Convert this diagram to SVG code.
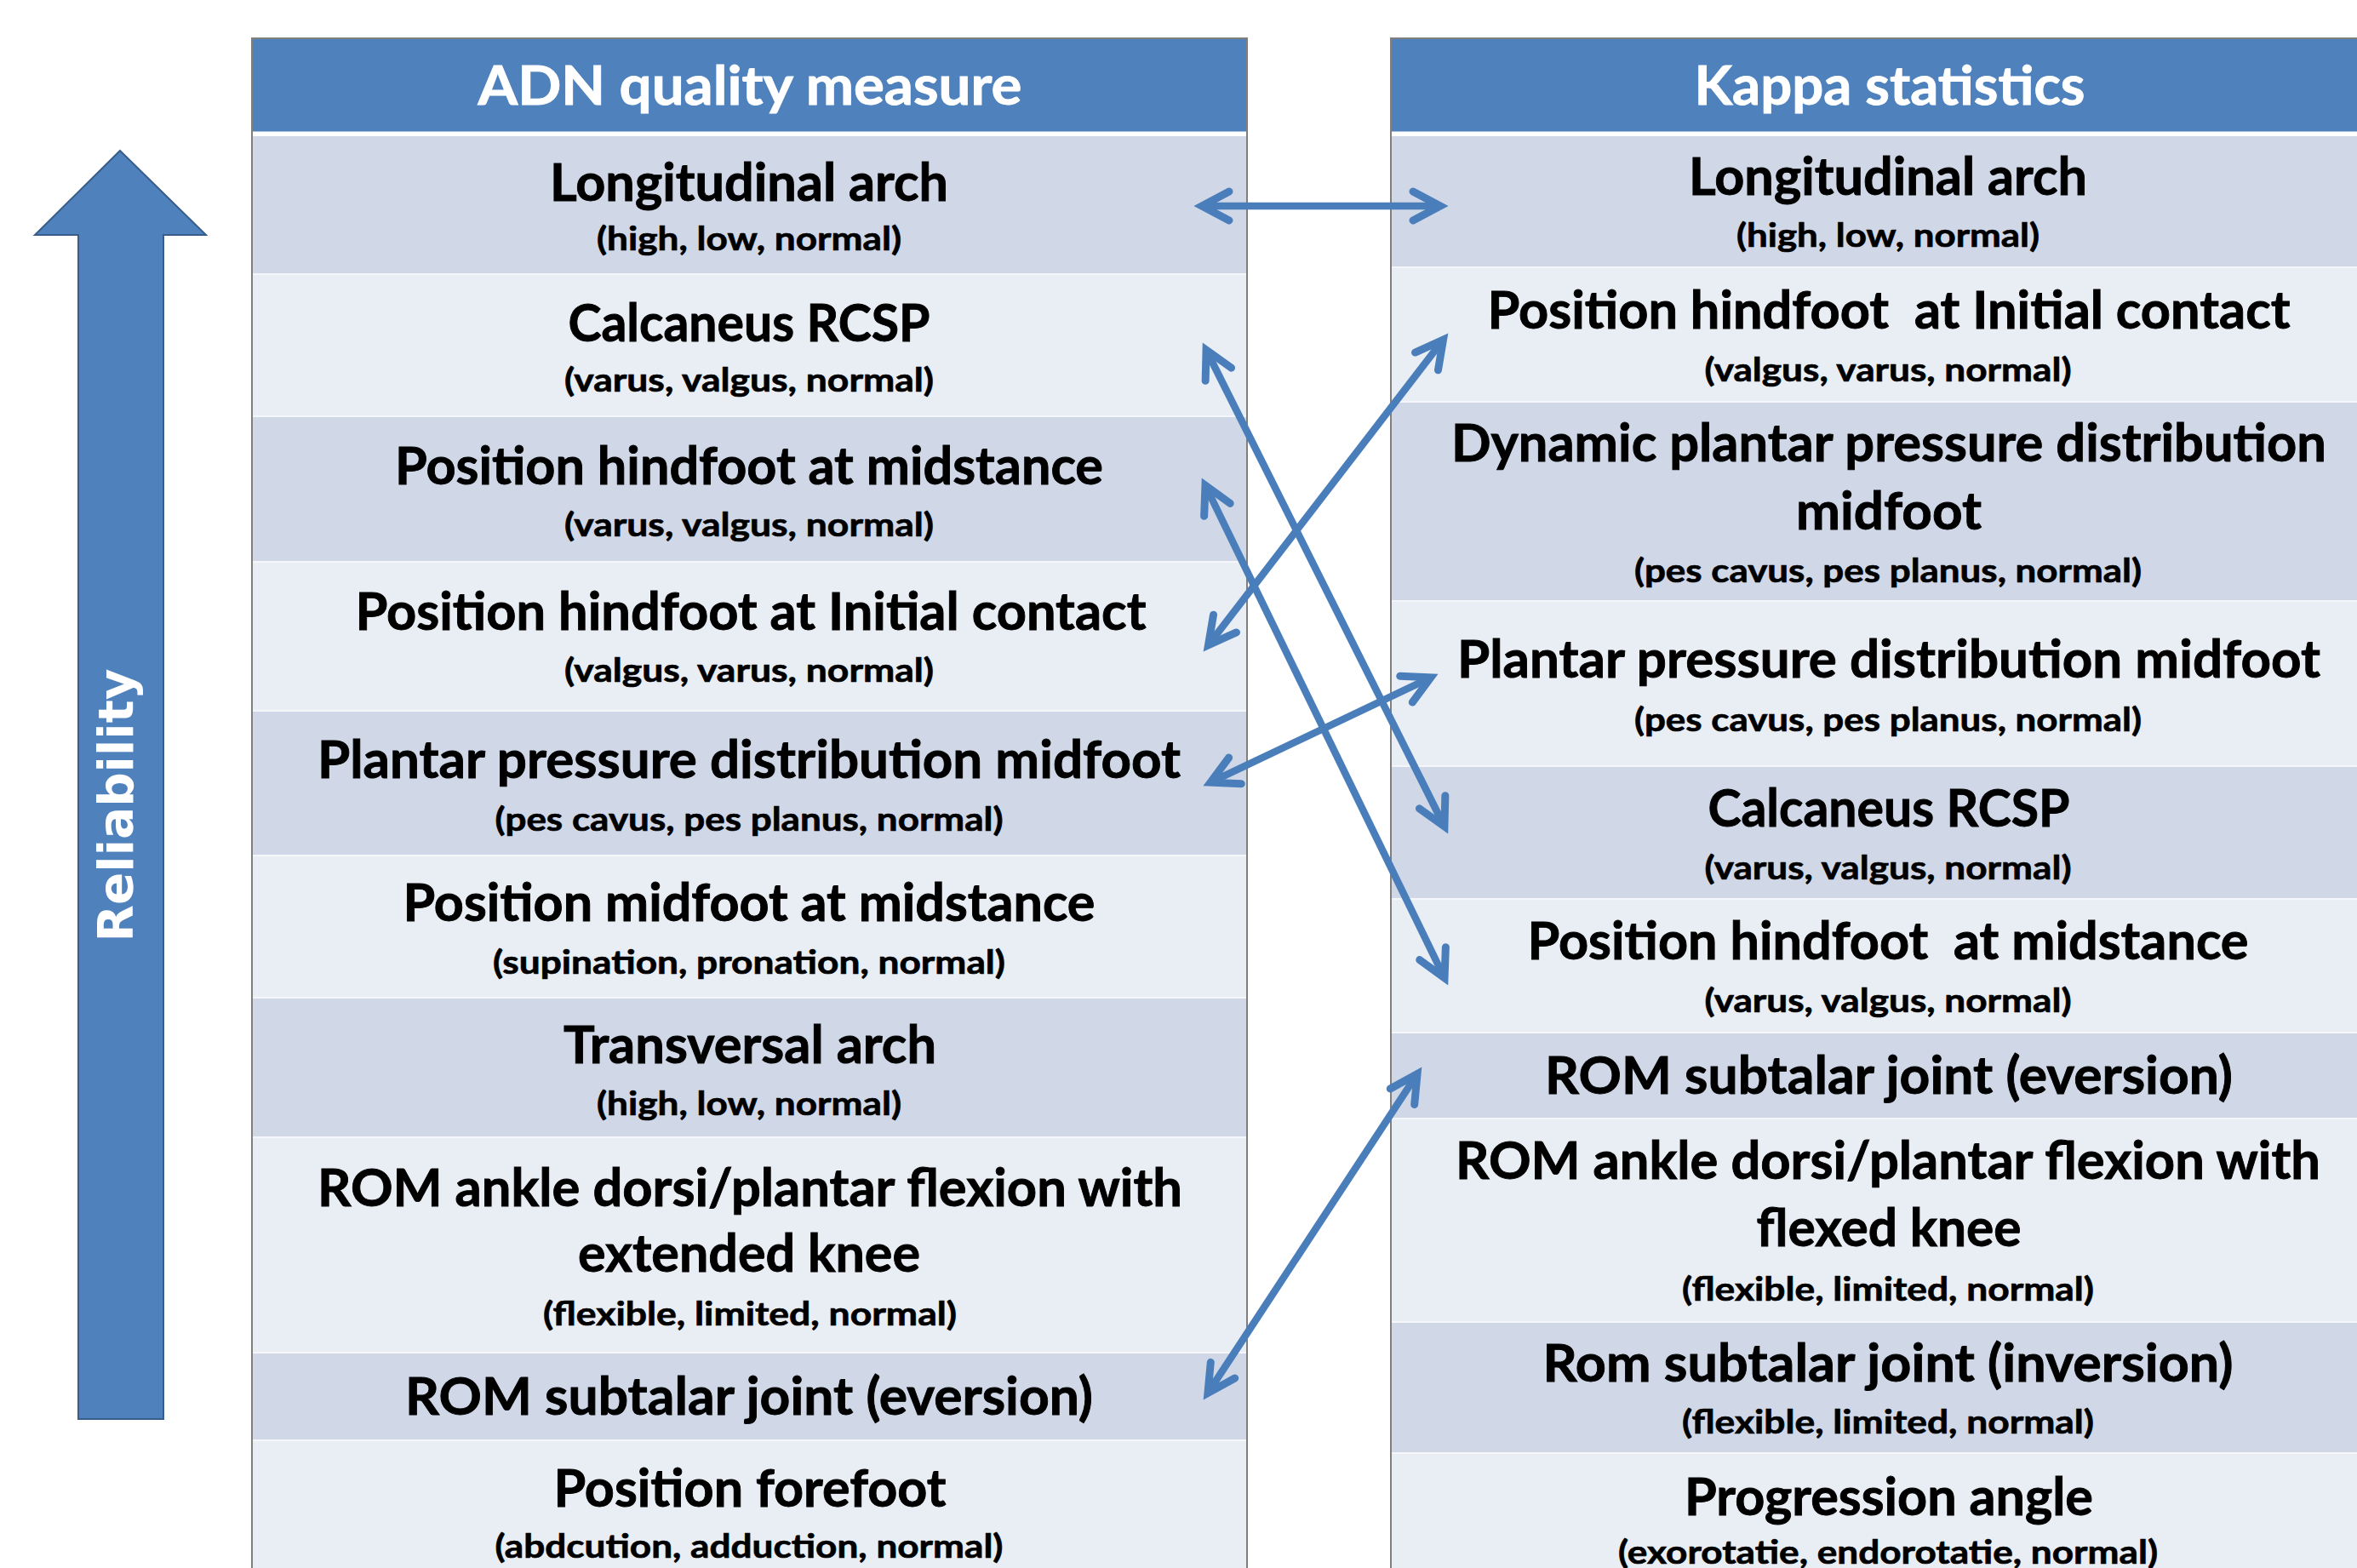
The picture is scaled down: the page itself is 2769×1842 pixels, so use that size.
<svg xmlns="http://www.w3.org/2000/svg" width="2769" height="1842" viewBox="0 0 2769 1842">
<defs>
<style>
.t{font-family:Lato,"Open Sans","Liberation Sans",sans-serif;font-weight:700;font-size:61px;text-anchor:middle;fill:#000;stroke:#000;stroke-width:0.9px}
.s{font-size:39px;stroke-width:0.7px}
.h{fill:#fff;stroke:#fff;font-size:64px}
.dk{fill:#D0D8E8}
.lt{fill:#E9EDF4}
.hd{fill:#4F81BD}
.sep{stroke:#F4F6FA;stroke-width:2}
.bd{stroke:#7F7F7F;stroke-width:2}
.con{fill:none;stroke:#4A7EBB;stroke-width:8.5}
</style>
<marker id="ah" markerUnits="userSpaceOnUse" viewBox="-50 -30 70 60" markerWidth="70" markerHeight="60" refX="0" refY="0" orient="auto-start-reverse">
<path d="M-31,-17 L1,0 L-31,17" fill="none" stroke="#4A7EBB" stroke-width="9" stroke-linecap="round" stroke-linejoin="miter" stroke-miterlimit="10"/>
</marker>
</defs>
<rect width="2769" height="1842" fill="#fff"/>

<g id="reliability-arrow">
<polygon points="141,177 242,276 192,276 192,1667 92,1667 92,276 41,276" fill="#4F81BD" stroke="#385D8A" stroke-width="2"/>
<text transform="translate(156,946) rotate(-90)" x="0" y="0" font-family="'DejaVu Sans',Verdana,sans-serif" font-weight="700" font-size="57" fill="#fff" text-anchor="middle" textLength="321" lengthAdjust="spacingAndGlyphs">Reliability</text>
</g>

<g id="left-table">
<g id="left-header"><rect class="hd" x="296" y="45" width="1169" height="110"/><text class="t h" x="881" y="123" textLength="639" lengthAdjust="spacingAndGlyphs">ADN quality measure</text></g>
<g id="L1"><rect class="dk" x="296" y="160" width="1169" height="162"/><text class="t" x="880" y="236" textLength="468" lengthAdjust="spacingAndGlyphs">Longitudinal arch</text><text class="t s" x="880" y="294" textLength="358" lengthAdjust="spacingAndGlyphs">(high, low, normal)</text></g>
<g id="L2"><rect class="lt" x="296" y="322" width="1169" height="167"/><text class="t" x="880" y="401" textLength="425" lengthAdjust="spacingAndGlyphs">Calcaneus RCSP</text><text class="t s" x="880" y="460" textLength="434" lengthAdjust="spacingAndGlyphs">(varus, valgus, normal)</text></g>
<g id="L3"><rect class="dk" x="296" y="489" width="1169" height="171"/><text class="t" x="880" y="569" textLength="832" lengthAdjust="spacingAndGlyphs">Position hindfoot at midstance</text><text class="t s" x="880" y="630" textLength="434" lengthAdjust="spacingAndGlyphs">(varus, valgus, normal)</text></g>
<g id="L4"><rect class="lt" x="296" y="660" width="1169" height="175"/><text class="t" x="882" y="740" textLength="929" lengthAdjust="spacingAndGlyphs">Position hindfoot at Initial contact</text><text class="t s" x="880" y="801" textLength="434" lengthAdjust="spacingAndGlyphs">(valgus, varus, normal)</text></g>
<g id="L5"><rect class="dk" x="296" y="835" width="1169" height="170"/><text class="t" x="880" y="914" textLength="1014" lengthAdjust="spacingAndGlyphs">Plantar pressure distribution midfoot</text><text class="t s" x="880" y="976" textLength="597" lengthAdjust="spacingAndGlyphs">(pes cavus, pes planus, normal)</text></g>
<g id="L6"><rect class="lt" x="296" y="1005" width="1169" height="167"/><text class="t" x="880" y="1082" textLength="813" lengthAdjust="spacingAndGlyphs">Position midfoot at midstance</text><text class="t s" x="880" y="1144" textLength="602" lengthAdjust="spacingAndGlyphs">(supination, pronation, normal)</text></g>
<g id="L7"><rect class="dk" x="296" y="1172" width="1169" height="164"/><text class="t" x="881" y="1249" textLength="438" lengthAdjust="spacingAndGlyphs">Transversal arch</text><text class="t s" x="880" y="1310" textLength="358" lengthAdjust="spacingAndGlyphs">(high, low, normal)</text></g>
<g id="L8"><rect class="lt" x="296" y="1336" width="1169" height="253"/><text class="t" x="881" y="1417" textLength="1016" lengthAdjust="spacingAndGlyphs">ROM ankle dorsi/plantar flexion with</text><text class="t" x="880" y="1494" textLength="402" lengthAdjust="spacingAndGlyphs">extended knee</text><text class="t s" x="881" y="1557" textLength="486" lengthAdjust="spacingAndGlyphs">(flexible, limited, normal)</text></g>
<g id="L9"><rect class="dk" x="296" y="1589" width="1169" height="103"/><text class="t" x="880" y="1662" textLength="808" lengthAdjust="spacingAndGlyphs">ROM subtalar joint (eversion)</text></g>
<g id="L10"><rect class="lt" x="296" y="1692" width="1169" height="150"/><text class="t" x="881" y="1770" textLength="461" lengthAdjust="spacingAndGlyphs">Position forefoot</text><text class="t s" x="880" y="1830" textLength="597" lengthAdjust="spacingAndGlyphs">(abdcution, adduction, normal)</text></g>
<g id="left-lines">
<line x1="296" y1="157" x2="1465" y2="157" stroke="#fff" stroke-width="5"/>
<line class="sep" x1="296" y1="322" x2="1465" y2="322"/><line class="sep" x1="296" y1="489" x2="1465" y2="489"/><line class="sep" x1="296" y1="660" x2="1465" y2="660"/><line class="sep" x1="296" y1="835" x2="1465" y2="835"/><line class="sep" x1="296" y1="1005" x2="1465" y2="1005"/><line class="sep" x1="296" y1="1172" x2="1465" y2="1172"/><line class="sep" x1="296" y1="1336" x2="1465" y2="1336"/><line class="sep" x1="296" y1="1589" x2="1465" y2="1589"/><line class="sep" x1="296" y1="1692" x2="1465" y2="1692"/>
<line class="bd" x1="296" y1="45" x2="1465" y2="45"/>
<line class="bd" x1="296" y1="44" x2="296" y2="1842"/><line class="bd" x1="1465" y1="44" x2="1465" y2="1842"/>
</g>
</g>

<g id="right-table">
<g id="right-header"><rect class="hd" x="1634" y="45" width="1170" height="110"/><text class="t h" x="2220" y="123" textLength="459" lengthAdjust="spacingAndGlyphs">Kappa statistics</text></g>
<g id="R1"><rect class="dk" x="1634" y="160" width="1170" height="154"/><text class="t" x="2218" y="229" textLength="468" lengthAdjust="spacingAndGlyphs">Longitudinal arch</text><text class="t s" x="2218" y="290" textLength="356" lengthAdjust="spacingAndGlyphs">(high, low, normal)</text></g>
<g id="R2"><rect class="lt" x="1634" y="314" width="1170" height="158"/><text class="t" x="2219" y="386" xml:space="preserve" textLength="943" lengthAdjust="spacingAndGlyphs">Position hindfoot  at Initial contact</text><text class="t s" x="2218" y="448" textLength="431" lengthAdjust="spacingAndGlyphs">(valgus, varus, normal)</text></g>
<g id="R3"><rect class="dk" x="1634" y="472" width="1170" height="234"/><text class="t" x="2219" y="542" textLength="1028" lengthAdjust="spacingAndGlyphs">Dynamic plantar pressure distribution</text><text class="t" x="2219" y="622" textLength="218" lengthAdjust="spacingAndGlyphs">midfoot</text><text class="t s" x="2218" y="684" textLength="596" lengthAdjust="spacingAndGlyphs">(pes cavus, pes planus, normal)</text></g>
<g id="R4"><rect class="lt" x="1634" y="706" width="1170" height="194"/><text class="t" x="2219" y="796" textLength="1014" lengthAdjust="spacingAndGlyphs">Plantar pressure distribution midfoot</text><text class="t s" x="2218" y="859" textLength="596" lengthAdjust="spacingAndGlyphs">(pes cavus, pes planus, normal)</text></g>
<g id="R5"><rect class="dk" x="1634" y="900" width="1170" height="156"/><text class="t" x="2219" y="971" textLength="425" lengthAdjust="spacingAndGlyphs">Calcaneus RCSP</text><text class="t s" x="2218" y="1033" textLength="431" lengthAdjust="spacingAndGlyphs">(varus, valgus, normal)</text></g>
<g id="R6"><rect class="lt" x="1634" y="1056" width="1170" height="157"/><text class="t" x="2218" y="1127" xml:space="preserve" textLength="847" lengthAdjust="spacingAndGlyphs">Position hindfoot  at midstance</text><text class="t s" x="2218" y="1189" textLength="431" lengthAdjust="spacingAndGlyphs">(varus, valgus, normal)</text></g>
<g id="R7"><rect class="dk" x="1634" y="1213" width="1170" height="101"/><text class="t" x="2219" y="1285" textLength="808" lengthAdjust="spacingAndGlyphs">ROM subtalar joint (eversion)</text></g>
<g id="R8"><rect class="lt" x="1634" y="1314" width="1170" height="239"/><text class="t" x="2218" y="1385" textLength="1016" lengthAdjust="spacingAndGlyphs">ROM ankle dorsi/plantar flexion with</text><text class="t" x="2219" y="1464" textLength="311" lengthAdjust="spacingAndGlyphs">flexed knee</text><text class="t s" x="2218" y="1528" textLength="484" lengthAdjust="spacingAndGlyphs">(flexible, limited, normal)</text></g>
<g id="R9"><rect class="dk" x="1634" y="1553" width="1170" height="154"/><text class="t" x="2218" y="1623" textLength="811" lengthAdjust="spacingAndGlyphs">Rom subtalar joint (inversion)</text><text class="t s" x="2218" y="1684" textLength="484" lengthAdjust="spacingAndGlyphs">(flexible, limited, normal)</text></g>
<g id="R10"><rect class="lt" x="1634" y="1707" width="1170" height="135"/><text class="t" x="2219" y="1780" textLength="480" lengthAdjust="spacingAndGlyphs">Progression angle</text><text class="t s" x="2218" y="1837" textLength="634" lengthAdjust="spacingAndGlyphs">(exorotatie, endorotatie, normal)</text></g>
<g id="right-lines">
<line x1="1634" y1="157" x2="2769" y2="157" stroke="#fff" stroke-width="5"/>
<line class="sep" x1="1634" y1="314" x2="2769" y2="314"/><line class="sep" x1="1634" y1="472" x2="2769" y2="472"/><line class="sep" x1="1634" y1="706" x2="2769" y2="706"/><line class="sep" x1="1634" y1="900" x2="2769" y2="900"/><line class="sep" x1="1634" y1="1056" x2="2769" y2="1056"/><line class="sep" x1="1634" y1="1213" x2="2769" y2="1213"/><line class="sep" x1="1634" y1="1314" x2="2769" y2="1314"/><line class="sep" x1="1634" y1="1553" x2="2769" y2="1553"/><line class="sep" x1="1634" y1="1707" x2="2769" y2="1707"/>
<line class="bd" x1="1634" y1="45" x2="2769" y2="45"/>
<line class="bd" x1="1634" y1="44" x2="1634" y2="1842"/>
</g>
</g>

<g id="connectors">
<line class="con" x1="1413" y1="242" x2="1691" y2="242" marker-start="url(#ah)" marker-end="url(#ah)"/>
<line class="con" x1="1417.5" y1="412" x2="1696.5" y2="970" marker-start="url(#ah)" marker-end="url(#ah)"/>
<line class="con" x1="1416.4" y1="571" x2="1696.6" y2="1148" marker-start="url(#ah)" marker-end="url(#ah)"/>
<line class="con" x1="1420.1" y1="757.1" x2="1694.9" y2="399.9" marker-start="url(#ah)" marker-end="url(#ah)"/>
<line class="con" x1="1423" y1="918.7" x2="1680" y2="796.3" marker-start="url(#ah)" marker-end="url(#ah)"/>
<line class="con" x1="1419.5" y1="1635.6" x2="1664.5" y2="1262.4" marker-start="url(#ah)" marker-end="url(#ah)"/>
</g>
</svg>
